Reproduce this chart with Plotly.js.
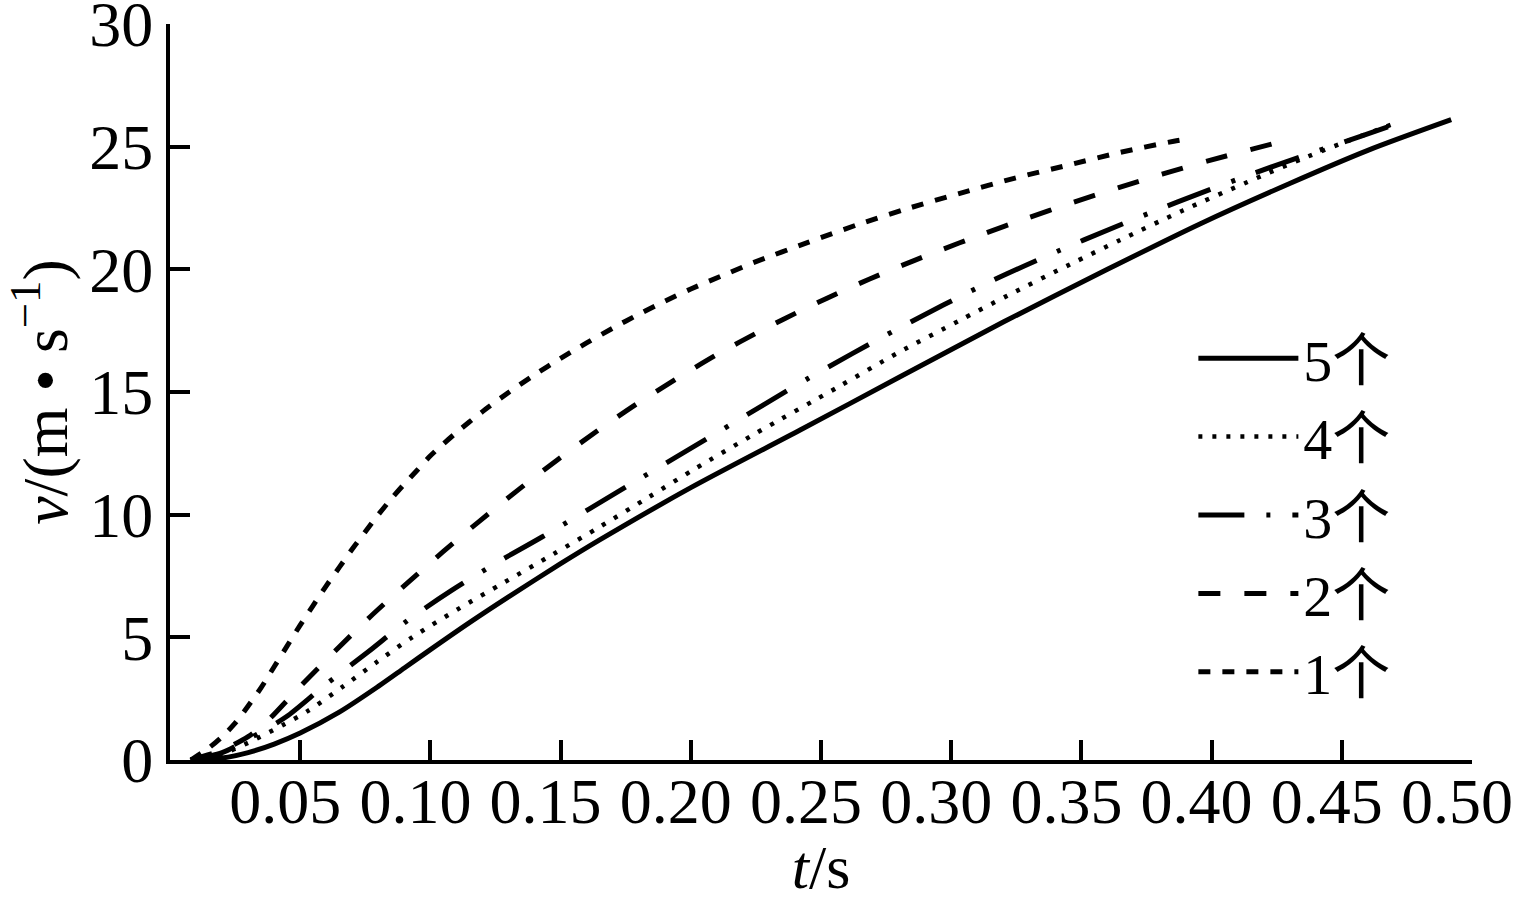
<!DOCTYPE html>
<html>
<head>
<meta charset="utf-8">
<script src="https://cdn.plot.ly/plotly-3.0.1.min.js"></script>
<style>html,body{margin:0;padding:0;background:#fff;}#chart{width:1517px;height:901px;}</style>
</head>
<body>
<div id="chart"></div>
<script>
// Series: t (s) and v (m/s)
const names = ["5个", "4个", "3个", "2个", "1个"];

const t5 = [0.008,0.02,0.03,0.04,0.05,0.065,0.08,0.09,0.10,0.115,0.13,0.15,0.165,0.20,0.242,0.28,0.32,0.36,0.3955,0.43,0.46,0.492];
const v5 = [0,0.08,0.3,0.65,1.1,1.95,3.0,3.75,4.5,5.6,6.65,8.0,8.97,11.1,13.45,15.6,17.85,20.0,21.85,23.5,24.85,26.1];

const t4 = [0.008,0.02,0.03,0.0434,0.053,0.0665,0.0795,0.093,0.1106,0.1287,0.147,0.165,0.1836,0.2016,0.2247,0.2565,0.2796,0.303,0.322,0.3456,0.365,0.389,0.4136,0.437,0.4716];
const v4 = [0,0.25,0.7,1.43,2.0,3.0,4.0,5.0,6.15,7.26,8.38,9.5,10.7,11.87,13.3,15.2,16.6,17.9,18.95,20.2,21.2,22.4,23.55,24.6,26.0];

const t3 = [0.008,0.02,0.03,0.0445,0.0595,0.076,0.0914,0.108,0.1256,0.143,0.177,0.211,0.245,0.279,0.315,0.351,0.387,0.425,0.458,0.4716];
const v3 = [0,0.3,0.85,1.75,3.05,4.4,5.7,6.9,8.05,9.1,11.25,13.4,15.55,17.55,19.5,21.2,22.75,24.25,25.45,25.95];

const t2 = [0.008,0.02,0.03,0.037,0.05,0.0634,0.077,0.091,0.105,0.119,0.1336,0.1486,0.1636,0.179,0.1947,0.2104,0.227,0.2435,0.2604,0.277,0.2944,0.3117,0.329,0.346,0.364,0.381,0.3986,0.4167,0.431];
const v2 = [0,0.4,0.95,1.55,3.0,4.44,5.85,7.2,8.5,9.75,11.0,12.22,13.38,14.5,15.55,16.55,17.5,18.38,19.22,19.98,20.72,21.42,22.08,22.7,23.32,23.88,24.42,24.93,25.32];

const t1 = [0.008,0.015,0.02,0.025,0.03,0.035,0.04,0.045,0.05,0.055,0.06,0.065,0.07,0.075,0.08,0.085,0.09,0.095,0.10,0.11,0.12,0.13,0.14,0.15,0.16,0.17,0.18,0.19,0.20,0.2147,0.224,0.245,0.264,0.283,0.304,0.3245,0.345,0.365,0.3855,0.39];
const v1 = [0,0.5,0.95,1.5,2.2,2.95,3.8,4.65,5.5,6.3,7.1,7.85,8.6,9.3,10.0,10.65,11.25,11.82,12.4,13.35,14.2,14.98,15.7,16.37,17.0,17.6,18.17,18.7,19.2,19.86,20.27,21.1,21.82,22.47,23.12,23.72,24.25,24.77,25.22,25.3];

const xTicks = [0.05,0.10,0.15,0.20,0.25,0.30,0.35,0.40,0.45,0.50];
const xTickText = ["0.05","0.10","0.15","0.20","0.25","0.30","0.35","0.40","0.45","0.50"];
const yTicks = [0,5,10,15,20,25,30];

const FONT = "Liberation Serif, Times New Roman, Noto Sans CJK SC, serif";

const series = [
  {t: t5, v: v5, dash: "solid", width: 5},
  {t: t4, v: v4, dash: "4px,10px", width: 4.5},
  {t: t3, v: v3, dash: "46px,22px,4px,22px", width: 5},
  {t: t2, v: v2, dash: "22px,24px", width: 5},
  {t: t1, v: v1, dash: "12px,12px", width: 5}
];

const traces = series.map((s, i) => ({
  x: s.t, y: s.v, type: "scatter", mode: "lines",
  name: names[i], legendgroup: "g" + i,
  line: {color: "#000", width: s.width, dash: s.dash, shape: "spline", smoothing: 0.8}
}));

const layout = {
  width: 1517, height: 901,
  margin: {l: 170, r: 45, t: 24, b: 141},
  paper_bgcolor: "#fff", plot_bgcolor: "#fff",
  font: {family: FONT, color: "#000", size: 64},
  showlegend: true,
  legend: {
    x: 0.786, y: 0.606, xanchor: "left", yanchor: "top",
    bgcolor: "rgba(0,0,0,0)", font: {family: FONT, size: 58, color: "#000"},
    traceorder: "grouped", tracegroupgap: 0, itemwidth: 100
  },
  xaxis: {
    range: [0, 0.5], tickvals: xTicks, ticktext: xTickText,
    showline: true, linecolor: "#000", linewidth: 4, mirror: false,
    ticks: "inside", ticklen: 20, tickwidth: 4, tickcolor: "#000",
    showgrid: false, zeroline: false, ticklabeloverflow: "allow",
    ticklabelshift: -15, ticklabelstandoff: -18,
    tickfont: {family: FONT, size: 64, color: "#000"},
    title: {text: "<i>t</i>/s", font: {family: FONT, size: 62, color: "#000"}}
  },
  yaxis: {
    range: [0, 30], tickvals: yTicks,
    showline: true, linecolor: "#000", linewidth: 4, mirror: false,
    ticks: "inside", ticklen: 20, tickwidth: 4, tickcolor: "#000",
    showgrid: false, zeroline: false, ticklabeloverflow: "allow",
    tickfont: {family: FONT, size: 64, color: "#000"},
    title: {text: "<i>v</i>/(m • s<sup>−1</sup>)", font: {family: FONT, size: 64, color: "#000"}}
  }
};

Plotly.newPlot("chart", traces, layout, {displayModeBar: false, staticPlot: true});
</script>
</body>
</html>
